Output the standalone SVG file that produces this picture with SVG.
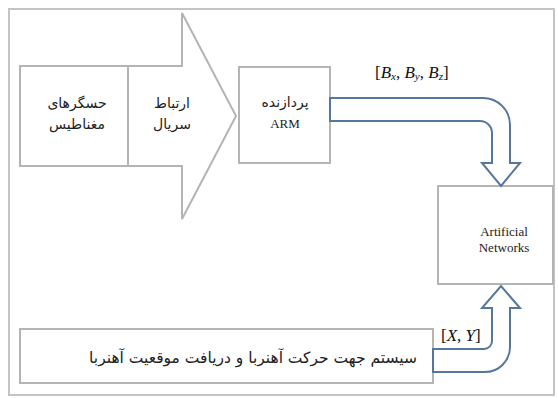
<svg xmlns="http://www.w3.org/2000/svg" width="558" height="398" viewBox="0 0 558 398">
<style>
.box{fill:#fff;stroke:#b4b4b4;stroke-width:2}
.frame{fill:#fff;stroke:#c4c4c4;stroke-width:2}
.fa{font-family:"DejaVu Sans","Noto Sans",sans-serif;font-size:14px;fill:#222;text-anchor:middle}
.lt{font-family:"Liberation Serif",serif;font-size:13px;fill:#222;text-anchor:middle}
.lbl{font-family:"Liberation Serif",serif;font-size:17px;fill:#111}
.flow{fill:#fff;stroke:#56779c;stroke-width:2;stroke-linejoin:miter}
</style>
<rect class="frame" x="9" y="9" width="545" height="386"/>
<g id="serial">
<polygon class="box" points="128,66 182,66 182,13 236,116 182,219 182,166 128,166"/>
<text class="fa" x="172" y="108">ارتباط</text>
<text class="fa" x="172" y="129">سریال</text>
</g>
<g id="sensors">
<rect class="box" x="20" y="66" width="108" height="100"/>
<text class="fa" x="77" y="108">حسگرهای</text>
<text class="fa" x="77" y="129">مغناطیس</text>
</g>
<g id="arm">
<rect class="box" x="239" y="67" width="91" height="96"/>
<text class="fa" x="285" y="107">پردازنده</text>
<text class="lt" x="285" y="128">ARM</text>
</g>
<g id="ann">
<rect class="box" x="438" y="186" width="115" height="98"/>
<text class="lt" x="504" y="236">Artificial</text>
<text class="lt" x="504" y="252">Networks</text>
</g>
<g id="system">
<rect class="box" x="20" y="329" width="413" height="54"/>
<text class="fa" x="253" y="363" style="font-size:15.5px">سیستم جهت حرکت آهنربا و دریافت موقعیت آهنربا</text>
</g>
<g id="connectors">
<path class="flow" d="M330,98 H483 A27,27 0 0 1 510,125 V163 H520 L501,186 L482,163 H492 V133 A12,12 0 0 0 480,121 H330 Z"/>
<path class="flow" d="M433,372 H485 A25,25 0 0 0 510,347 V308 H520 L501,286 L482,308 H492 V341 A8,8 0 0 1 484,349 H433 Z"/>
<text class="lbl" x="375" y="78">[<tspan font-style="italic">B</tspan><tspan font-style="italic" font-size="11" dy="2">x</tspan><tspan dy="-2">, </tspan><tspan font-style="italic">B</tspan><tspan font-style="italic" font-size="11" dy="2">y</tspan><tspan dy="-2">, </tspan><tspan font-style="italic">B</tspan><tspan font-style="italic" font-size="11" dy="2">z</tspan><tspan dy="-2">]</tspan></text>
<rect x="439" y="322" width="48" height="25" fill="#fff"/>
<text class="lbl" x="441" y="341">[<tspan font-style="italic">X</tspan>, <tspan font-style="italic">Y</tspan>]</text>
</g>
</svg>
